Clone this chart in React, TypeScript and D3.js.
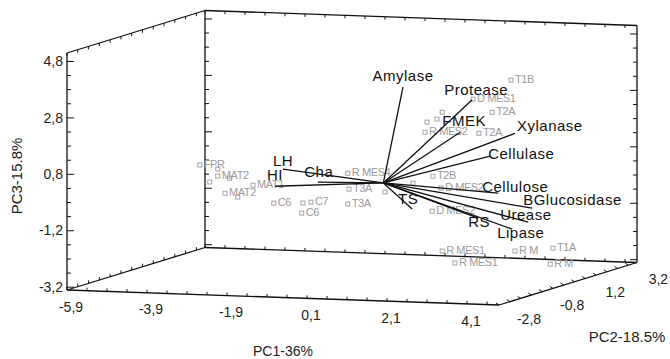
import React from "react";
import * as d3 from "d3";

// axis tick labels (as printed on the chart)
const pc1Ticks = [-5.9, -3.9, -1.9, 0.1, 2.1, 4.1];
const pc2Ticks = [-2.8, -0.8, 1.2, 3.2];
const pc3Ticks = [4.8, 2.8, 0.8, -1.2, -3.2];

// loading vectors (PC1, PC2, PC3), drawn from a common origin
const variables = [
  "Amylase", "Protease", "FMEK", "Xylanase", "Cellulase", "Cellulose",
  "BGlucosidase", "Urease", "Lipase", "RS", "TS", "Cha", "LH", "HI",
];
const loadings: [number, number, number][] = [
  [0.49, 0, 3.42],
  [2.22, 0, 3.06],
  [1.92, 0, 1.89],
  [3.29, 0, 1.92],
  [2.67, 0, 1.08],
  [2.87, 0, -0.22],
  [3.72, 0, -0.71],
  [3.62, 0, -1.21],
  [3.22, 0, -1.48],
  [2.37, 0, -1.13],
  [0.72, 0, -0.89],
  [-1.64, 0, -0.05],
  [-2.51, 0, 0.37],
  [-2.71, 0, -0.25],
];
const loadingOrigin: [number, number, number] = [0.5, 0, 0.15];

// sample scores
const samples = [
  "FPR", "MAT2", "MAT2", "MAT1", "C6", "C7", "C6", "R MES4", "T3A", "T3A",
  "R MES2", "D MES1", "T1B", "T2A", "T2A", "T2B", "D MES2", "D MES2",
  "R MES1", "R MES1", "R M", "T1A", "R M",
  "", "", "", "", "", "", "", "", "", "",
];
const scores: [number, number, number][] = [
  [-4.09, 0, 0.56],
  [-3.64, 0, 0.19],
  [-3.46, 0, -0.41],
  [-2.76, 0, -0.09],
  [-2.24, 0, -0.7],
  [-1.31, 0, -0.62],
  [-1.54, 0, -1.02],
  [-0.39, 0, 0.45],
  [-0.36, 0, -0.11],
  [-0.39, 0, -0.64],
  [1.54, 0, 2.0],
  [2.74, 0, 3.23],
  [3.69, 0, 3.95],
  [3.22, 0, 2.79],
  [2.89, 0, 2.03],
  [1.74, 0, 0.45],
  [1.94, 0, 0.04],
  [1.72, 0, -0.79],
  [1.97, 0, -2.19],
  [2.29, 0, -2.6],
  [3.79, 0, -2.1],
  [4.74, 0, -1.95],
  [4.67, 0, -2.52],
  [-3.64, 0, 0.44],
  [-3.84, 0, -0.03],
  [-3.34, 0, 0.13],
  [-3.14, 0, -0.53],
  [-1.51, 0, -0.66],
  [1.97, 0, 2.73],
  [1.59, 0, 2.36],
  [1.84, 0, 2.48],
  [1.24, 0, 0.18],
  [0.54, 0, -0.17],
];

// label placement for the vectors: dx, dy, anchor
const labelPlace: Record<string, [number, number, string]> = {
  Amylase: [0, -10, "middle"],
  Protease: [4, -9, "middle"],
  FMEK: [4, -10, "middle"],
  Xylanase: [2, -6, "start"],
  Cellulase: [-2, -1, "start"],
  Cellulose: [-16, -5, "start"],
  BGlucosidase: [-9, -7, "start"],
  Urease: [-28, -6, "start"],
  Lipase: [-15, 5, "start"],
  RS: [-10, 5, "start"],
  TS: [-4, -9, "middle"],
  Cha: [1, -9, "middle"],
  LH: [0, -7, "middle"],
  HI: [0, -10, "middle"],
};

const W = 670;
const H = 359;
const FONT = "'Liberation Sans', Arial, sans-serif";

const PC1 = [-5.9, 4.9];
const PC2 = [-2.8, 3.6];
const PC3 = [-3.3, 5.1];

const u1 = d3.scaleLinear().domain(PC1).range([0, 1]);
const u2 = d3.scaleLinear().domain(PC2).range([0, 1]);
const u3 = d3.scaleLinear().domain(PC3).range([0, 1]);

// oblique projection of the box
const O = [67, 290];
const A1 = [432, 15];
const A2 = [138, -42.5];
const A3 = [0, -237];

function proj(p1: number, p2: number, p3: number): [number, number] {
  const a = u1(p1), b = u2(p2), c = u3(p3);
  return [
    O[0] + a * A1[0] + b * A2[0] + c * A3[0],
    O[1] + a * A1[1] + b * A2[1] + c * A3[1],
  ];
}

const fmt = (v: number) => String(v).replace(".", ",");

export default function App() {
  const [x0, x1] = PC1;
  const [y0, y1] = PC2;
  const [z0, z1] = PC3;

  const edges: [[number, number, number], [number, number, number]][] = [
    [[x0, y0, z0], [x0, y0, z1]],
    [[x0, y0, z0], [x1, y0, z0]],
    [[x1, y0, z0], [x1, y1, z0]],
    [[x1, y1, z0], [x1, y1, z1]],
    [[x0, y1, z1], [x1, y1, z1]],
    [[x0, y0, z1], [x0, y1, z1]],
    [[x0, y1, z0], [x0, y1, z1]],
    [[x0, y1, z0], [x1, y1, z0]],
    [[x0, y0, z0], [x0, y1, z0]],
  ];

  const ticks: JSX.Element[] = [];
  let k = 0;
  const tick = (p: [number, number], dx: number, dy: number) => {
    ticks.push(
      <line key={k++} x1={p[0]} y1={p[1]} x2={p[0] + dx} y2={p[1] + dy}
        stroke="#111" strokeWidth={1} />
    );
  };

  // PC3 ticks on the verticals
  d3.range(0, 17).forEach((i) => {
    const v = -3.2 + i * 0.5;
    const len = i % 4 === 0 ? 7 : 4;
    tick(proj(x0, y0, v), len, 0);
    tick(proj(x0, y1, v), len, 0);
    tick(proj(x1, y1, v), -len, 0);
  });
  // PC1 ticks
  d3.range(0, 22).forEach((i) => {
    const v = -5.9 + i * 0.5;
    tick(proj(v, y0, z0), 0, -3);
    tick(proj(v, y1, z0), 0, -3);
    tick(proj(v, y1, z1), 0, 3);
  });
  // PC2 ticks
  d3.range(0, 13).forEach((i) => {
    const v = -2.8 + i * 0.5;
    tick(proj(x0, v, z0), 0, -3);
    tick(proj(x1, v, z0), -3, -2);
    tick(proj(x0, v, z1), 0, 3);
  });

  const origin = proj(...loadingOrigin);

  return (
    <svg width={W} height={H} style={{ position: "absolute", left: 0, top: 0, background: "#fff" }}
      fontFamily={FONT}>
      <rect width={W} height={H} fill="#fff" />

      {edges.map(([a, b], i) => {
        const p = proj(...a), q = proj(...b);
        return <line key={i} x1={p[0]} y1={p[1]} x2={q[0]} y2={q[1]} stroke="#111" strokeWidth={1.3} />;
      })}
      {ticks}

      {/* tick labels */}
      {pc1Ticks.map((v) => {
        const p = proj(v, y0, z0);
        return (
          <text key={"t1" + v} x={p[0] + 4} y={p[1] + 18} fontSize={14} fill="#222"
            textAnchor="middle" dominantBaseline="middle">{fmt(v)}</text>
        );
      })}
      {pc2Ticks.map((v) => {
        const p = proj(x1, v, z0);
        return (
          <text key={"t2" + v} x={p[0] + 30} y={p[1] + 15} fontSize={14} fill="#222"
            textAnchor="middle" dominantBaseline="middle">{fmt(v)}</text>
        );
      })}
      {pc3Ticks.map((v) => {
        const p = proj(x0, y0, v);
        return (
          <text key={"t3" + v} x={p[0] - 4} y={p[1] + 1} fontSize={14} fill="#222"
            textAnchor="end" dominantBaseline="middle">{fmt(v)}</text>
        );
      })}

      {/* axis titles */}
      <text x={283} y={352} fontSize={14} fill="#222" textAnchor="middle" dominantBaseline="middle">PC1-36%</text>
      <text x={627} y={338} fontSize={15} fill="#222" textAnchor="middle" dominantBaseline="middle">PC2-18.5%</text>
      <text transform="translate(18,176) rotate(-90)" fontSize={15} fill="#222" textAnchor="middle"
        dominantBaseline="middle">PC3-15.8%</text>

      {/* samples */}
      {scores.map((s, i) => {
        const p = proj(...s);
        return (
          <g key={"s" + i}>
            <rect x={p[0] - 2} y={p[1] - 2} width={4} height={4} fill="none" stroke="#999" strokeWidth={0.9} />
            {samples[i] && (
              <text x={p[0] + 4} y={p[1]} fontSize={11} fill="#999" letterSpacing={-0.4}
                dominantBaseline="middle">{samples[i]}</text>
            )}
          </g>
        );
      })}

      {/* loading vectors */}
      {loadings.map((l, i) => {
        const e = proj(loadingOrigin[0] + l[0], loadingOrigin[1] + l[1], loadingOrigin[2] + l[2]);
        return <line key={"v" + i} x1={origin[0]} y1={origin[1]} x2={e[0]} y2={e[1]} stroke="#111" strokeWidth={1.3} />;
      })}
      {loadings.map((l, i) => {
        const e = proj(loadingOrigin[0] + l[0], loadingOrigin[1] + l[1], loadingOrigin[2] + l[2]);
        const [dx, dy, anchor] = labelPlace[variables[i]];
        return (
          <text key={"vl" + i} x={e[0] + dx} y={e[1] + dy} fontSize={15} fill="#111" letterSpacing={0.5}
            textAnchor={anchor} dominantBaseline="middle">{variables[i]}</text>
        );
      })}
    </svg>
  );
}
